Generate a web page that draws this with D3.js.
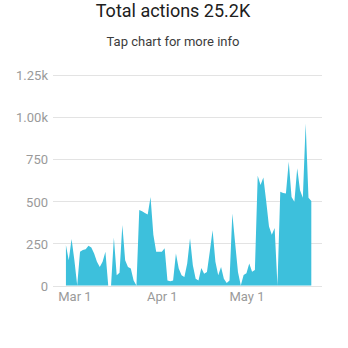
<!DOCTYPE html>
<html>
<head>
<meta charset="utf-8">
<script src="https://cdn.jsdelivr.net/npm/d3@7"></script>
<style>
  body { margin: 0; background: #fff; font-family: Roboto, "Noto Sans", sans-serif; }
  .grid line { stroke: #e3e3e3; }
  .axis text { fill: #9a9a9a; font-size: 13px; font-family: Roboto, sans-serif; }
</style>
</head>
<body>
<svg id="chart" width="348" height="348"></svg>
<script>
var titleText = "Total actions 25.2K";
var subtitleText = "Tap chart for more info";

// one value per day, starting on firstDay
var firstDay = "2019-02-26";
var actions = [
  240, 150, 275, 150,
  0, 200, 210, 215, 235, 225, 190, 140, 110, 140, 200,
  0, 0, 285, 60, 75, 358, 150, 110, 100, 30, 0,
  447, 440, 430, 420, 525, 300, 200, 200, 200, 220,
  30, 25, 30, 190, 100, 60, 50, 130, 280, 120, 40, 30, 103, 70, 80, 200, 328, 140, 60,
  110, 40, 15, 30, 427, 250, 80, 0, 62, 72, 131, 82, 92,
  650, 595, 640, 500, 350, 300, 340, 0,
  555, 548, 545, 733, 525, 496, 694, 565, 520, 960, 520, 500
];

var yTicks = [0, 250, 500, 750, 1000, 1250];
var yTickLabels = ["0", "250", "500", "750", "1.00k", "1.25k"];
var xTicks = ["2019-03-01", "2019-04-01", "2019-05-01"];
var xTickLabels = ["Mar 1", "Apr 1", "May 1"];

var parseDay = d3.timeParse("%Y-%m-%d");
var start = parseDay(firstDay);
var points = actions.map(function(v, i) {
    return { date: d3.timeDay.offset(start, i), value: v };
});

var svg = d3.select("#chart");
var plotLeft = 53, plotRight = 322, plotTop = 74.5, plotBottom = 285.5;

var x = d3.scaleTime()
    .domain([new Date(2019, 1, 21, 10), new Date(2019, 4, 27, 19)])
    .range([plotLeft, plotRight]);
var y = d3.scaleLinear()
    .domain([0, 1250])
    .range([plotBottom, plotTop]);

svg.append("text")
    .attr("x", 173)
    .attr("y", 16.5)
    .attr("text-anchor", "middle")
    .attr("fill", "#202020")
    .style("font-size", "18px")
    .text(titleText);

svg.append("text")
    .attr("x", 173)
    .attr("y", 46)
    .attr("text-anchor", "middle")
    .attr("fill", "#3c3c3c")
    .style("font-size", "13px")
    .text(subtitleText);

// gridlines
svg.append("g")
    .attr("class", "grid")
    .selectAll("line")
    .data(yTicks)
    .enter().append("line")
        .attr("x1", plotLeft)
        .attr("x2", plotRight)
        .attr("y1", function(d) { return Math.round(y(d)) + 0.5; })
        .attr("y2", function(d) { return Math.round(y(d)) + 0.5; });

var area = d3.area()
    .x(function(d) { return x(d.date); })
    .y0(y(0))
    .y1(function(d) { return y(d.value); });

svg.append("path")
    .datum(points)
    .attr("fill", "#3dc0dc")
    .attr("d", area);

var yAxis = d3.axisLeft(y)
    .tickValues(yTicks)
    .tickSize(0)
    .tickPadding(0)
    .tickFormat(function(d, i) { return yTickLabels[i]; });

svg.append("g")
    .attr("class", "axis")
    .attr("transform", "translate(48,0.8)")
    .call(yAxis)
    .call(function(g) { g.select(".domain").remove(); });

var xAxis = d3.axisBottom(x)
    .tickValues(xTicks.map(parseDay))
    .tickSize(0)
    .tickPadding(0)
    .tickFormat(function(d, i) { return xTickLabels[i]; });

svg.append("g")
    .attr("class", "axis")
    .attr("transform", "translate(0,291.5)")
    .call(xAxis)
    .call(function(g) { g.select(".domain").remove(); });
</script>
</body>
</html>
